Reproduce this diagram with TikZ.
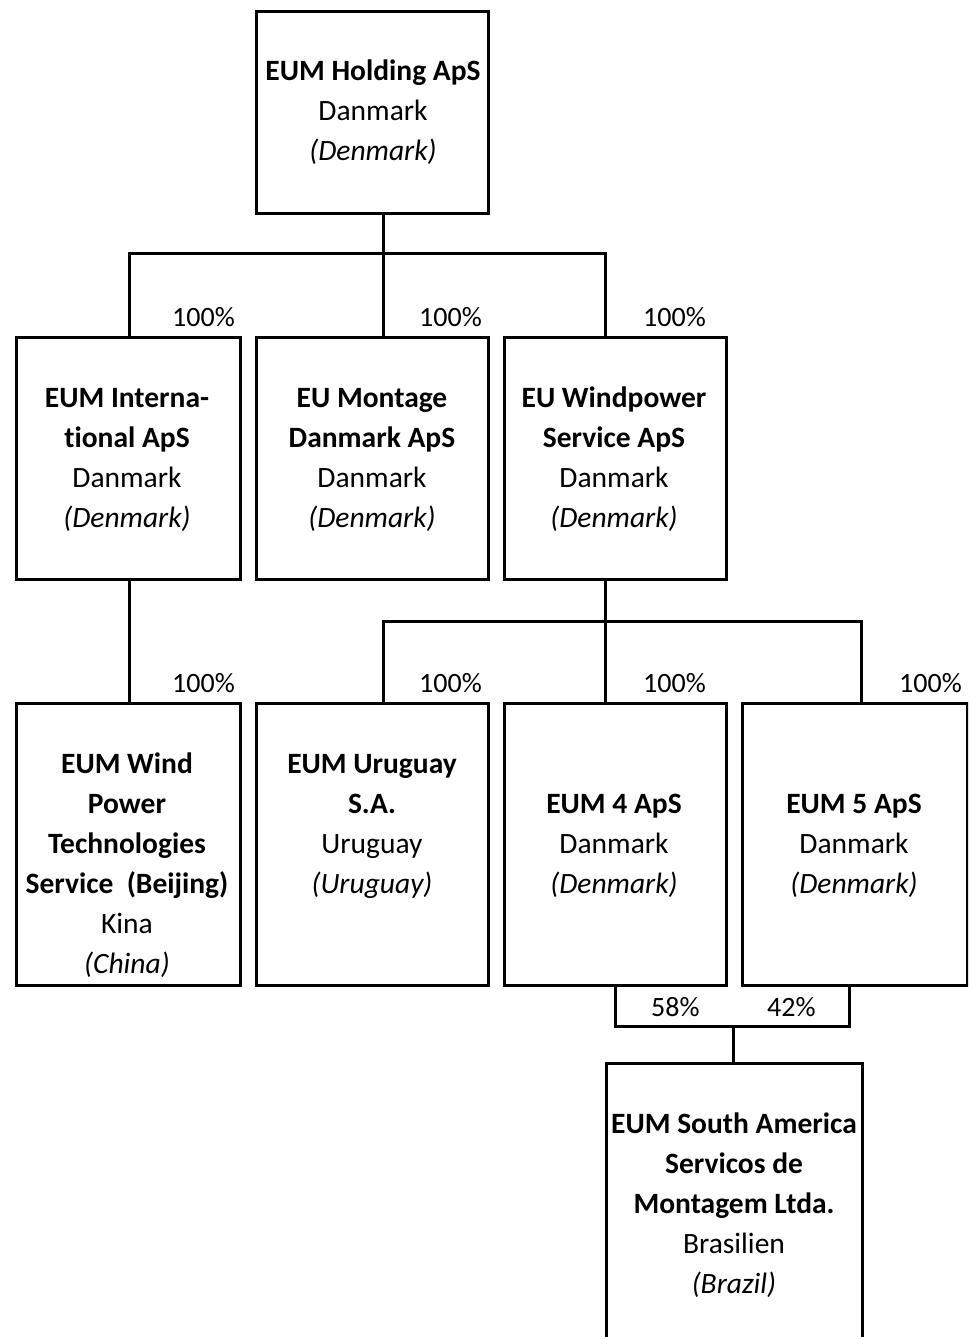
\documentclass[tikz,border=0pt]{standalone}
\usepackage{fontspec}
\setmainfont[Ligatures=NoCommon]{Carlito}
\begin{document}
\begin{tikzpicture}[x=1pt,y=-1pt,
  box/.style={draw=black, line width=3pt, rectangle, inner sep=0pt, anchor=north west, fill=none},
  txt/.style={font=\fontsize{29.5}{40}\selectfont, align=center, inner sep=0pt},
  pct/.style={font=\fontsize{28}{34}\selectfont, inner sep=0pt, anchor=west},
  conn/.style={draw=black, line width=3pt}]
\useasboundingbox (0,0) rectangle (968,1337);
\clip (0,0) rectangle (968,1337);
\fill[white] (0,0) rectangle (968,1337);

% boxes
\node[box, minimum width=232pt, minimum height=202pt] (hold) at (255,10) {};
\node[box, minimum width=224pt, minimum height=242pt] (intl) at (15,336) {};
\node[box, minimum width=232pt, minimum height=242pt] (mont) at (255,336) {};
\node[box, minimum width=222pt, minimum height=242pt] (wind) at (503,336) {};
\node[box, minimum width=224pt, minimum height=282pt] (beij) at (15,702) {};
\node[box, minimum width=232pt, minimum height=282pt] (urug) at (255,702) {};
\node[box, minimum width=222pt, minimum height=282pt] (eumf) at (503,702) {};
\node[box, minimum width=225pt, minimum height=282pt] (eumv) at (741,702) {};
\node[box, minimum width=256pt, minimum height=290pt] (samer) at (605,1062) {};

% texts
\node[txt] (holdT) at (373,113) {\strut\textbf{EUM Holding ApS}\\\strut Danmark\\\strut\textit{(Denmark)}};
\node[txt] (intlT) at (127,459) {\strut\textbf{EUM Interna-}\\\strut\textbf{tional ApS}\\\strut Danmark\\\strut\textit{(Denmark)}};
\node[txt] (montT) at (372,459) {\strut\textbf{EU Montage}\\\strut\textbf{Danmark ApS}\\\strut Danmark\\\strut\textit{(Denmark)}};
\node[txt] (windT) at (614,459) {\strut\textbf{EU Windpower}\\\strut\textbf{Service ApS}\\\strut Danmark\\\strut\textit{(Denmark)}};
\node[txt] (beijT) at (127,865) {\strut\textbf{EUM Wind}\\\strut\textbf{Power}\\\strut\textbf{Technologies}\\\strut\textbf{Service~~(Beijing)}\\\strut Kina\\\strut\textit{(China)}};
\node[txt] (urugT) at (372,825) {\strut\textbf{EUM Uruguay}\\\strut\textbf{S.A.}\\\strut Uruguay\\\strut\textit{(Uruguay)}};
\node[txt] (eumfT) at (614,845) {\strut\textbf{EUM 4 ApS}\\\strut Danmark\\\strut\textit{(Denmark)}};
\node[txt] (eumvT) at (854,845) {\strut\textbf{EUM 5 ApS}\\\strut Danmark\\\strut\textit{(Denmark)}};
\node[txt] (samerT) at (734,1205) {\strut\textbf{EUM South America}\\\strut\textbf{Servicos de}\\\strut\textbf{Montagem Ltda.}\\\strut Brasilien\\\strut\textit{(Brazil)}};

% junction coordinates
\coordinate (jA) at (383,254);
\coordinate (b1l) at (129,254);
\coordinate (b1r) at (605,254);
\coordinate (b2l) at (383,621);
\coordinate (b2m) at (605,621);
\coordinate (b2r) at (861,621);
\coordinate (k1) at (615,1026);
\coordinate (k2) at (849,1026);
\coordinate (k3) at (733,1026);

% connectors
\draw[conn] (hold.south -| jA) -- (mont.north -| jA);
\draw[conn] (intl.north -| b1l) -- (b1l) -- (b1r) -- (wind.north -| b1r);
\draw[conn] (intl.south -| b1l) -- (beij.north -| b1l);
\draw[conn] (wind.south -| b2m) -- (eumf.north -| b2m);
\draw[conn] (urug.north -| b2l) -- (b2l) -- (b2r) -- (eumv.north -| b2r);
\draw[conn] (eumf.south -| k1) -- (k1) -- (k2) -- (eumv.south -| k2);
\draw[conn] (k3) -- (samer.north -| k3);

% percentages
\node[pct] (p1) at (172,317) {100\%};
\node[pct] (p2) at (419,317) {100\%};
\node[pct] (p3) at (643,317) {100\%};
\node[pct] (p4) at (172,683) {100\%};
\node[pct] (p5) at (419,683) {100\%};
\node[pct] (p6) at (643,683) {100\%};
\node[pct] (p7) at (899,683) {100\%};
\node[pct] (p8) at (651,1007) {58\%};
\node[pct] (p9) at (767,1007) {42\%};
\end{tikzpicture}
\end{document}
